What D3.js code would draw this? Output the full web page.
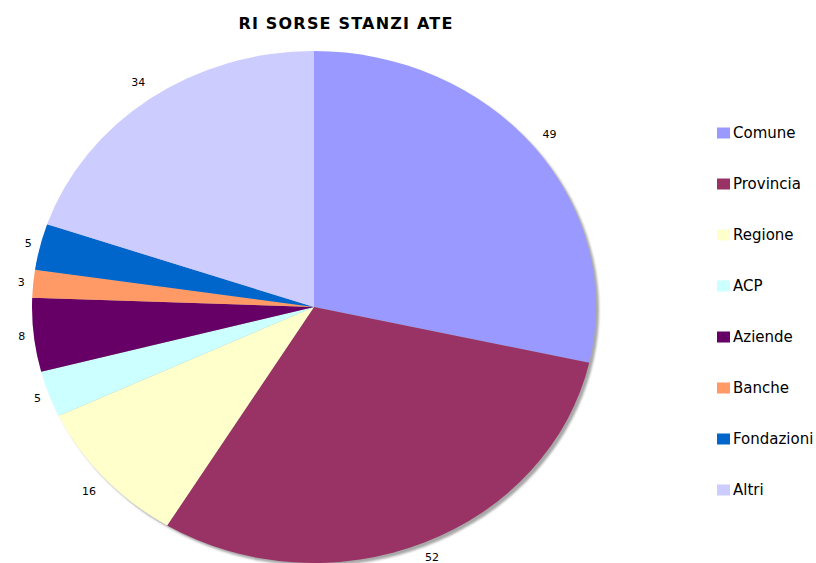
<!DOCTYPE html>
<html><head><meta charset="utf-8">
<script src="https://cdn.jsdelivr.net/npm/d3@7"></script>
<style>html,body{margin:0;padding:0;background:#fff;}svg{display:block;}</style>
</head><body>
<svg id="chart" width="816" height="563"></svg>
<script>
const categories = ["Comune","Provincia","Regione","ACP","Aziende","Banche","Fondazioni","Altri"];
const values = [49,52,16,5,8,3,5,34];
const colors = ["#9999FF","#993366","#FFFFCC","#CCFFFF","#660066","#FF9966","#0066CC","#CCCCFF"];
const title = "RI SORSE STANZI ATE";

const svg = d3.select("#chart");
const cx = 314, cy = 307, rx = 282, ry = 256;
const data = categories.map((c,i)=>({name:c, value:values[i], color:colors[i]}));

const pie = d3.pie().value(d=>d.value).sort(null);
const arcs = pie(data);
const arc = d3.arc().innerRadius(0).outerRadius(rx);

const defs = svg.append("defs");
defs.append("filter").attr("id","blur").append("feGaussianBlur").attr("stdDeviation",0.8);

// shadow
svg.append("ellipse").attr("cx",cx+3).attr("cy",cy+3).attr("rx",rx).attr("ry",ry)
  .attr("fill","#a8a8a8").attr("filter","url(#blur)");

const g = svg.append("g").attr("transform",`translate(${cx},${cy}) scale(1,${ry/rx})`);
g.selectAll("path").data(arcs).join("path")
  .attr("d",arc).attr("fill",d=>d.data.color);

// labels: placed just outside the edge, farther for wider labels
function labelPos(d){
  const a=(d.startAngle+d.endAngle)/2;
  const s=Math.sin(a), c=-Math.cos(a);
  const ex=cx+rx*s, ey=cy+ry*c;
  const off=4+8*String(d.data.value).length;
  return [ex+s*off, Math.min(ey+c*off, 557)];
}
svg.append("g").selectAll("text").data(arcs).join("text")
  .attr("x",d=>labelPos(d)[0])
  .attr("y",d=>labelPos(d)[1])
  .attr("text-anchor","middle").attr("dominant-baseline","central")
  .attr("font-family","DejaVu Sans, Verdana, sans-serif").attr("font-size",11)
  .attr("fill","#000").text(d=>d.data.value);

// title
svg.append("text").attr("x",346).attr("y",29).attr("text-anchor","middle")
  .attr("font-family","DejaVu Sans, Verdana, sans-serif").attr("font-weight","bold")
  .attr("font-size",16).attr("letter-spacing",1.2).attr("fill","#000").text(title);

// legend
const ly = d3.scalePoint().domain(categories).range([133,490]);
const lg = svg.append("g").selectAll("g").data(data).join("g")
  .attr("transform",d=>`translate(717,${ly(d.name)})`);
lg.append("rect").attr("x",0).attr("y",-5.5).attr("width",13).attr("height",11).attr("fill",d=>d.color);
lg.append("text").attr("x",16).attr("y",0).attr("dominant-baseline","central")
  .attr("font-family","DejaVu Sans, Verdana, sans-serif").attr("font-size",15)
  .attr("fill","#000").text(d=>d.name);
</script>
</body></html>
